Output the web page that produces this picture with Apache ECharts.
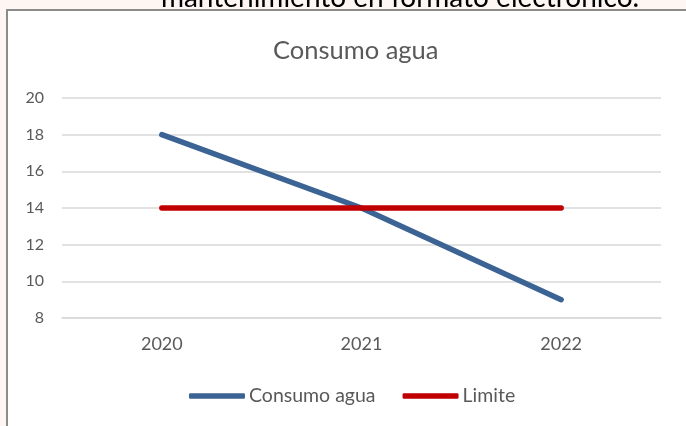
<!DOCTYPE html>
<html>
<head>
<meta charset="utf-8">
<script src="https://cdn.jsdelivr.net/npm/echarts@6/dist/echarts.min.js"></script>
<style>
html,body{margin:0;padding:0;background:#fdf6f3;}
#c{width:686px;height:426px;}
</style>
</head>
<body>
<div id="c"></div>
<script>
var categories = ['2020', '2021', '2022'];
var consumoAgua = [18, 14, 9];
var limite = [14, 14, 14];
var yTicks = {min: 8, max: 20, interval: 2};
var chartTitle = 'Consumo agua';
var headerText = 'mantenimiento en formato electrónico.';

var FONT = 'Lato';
var chart = echarts.init(document.getElementById('c'), null, {renderer: 'canvas'});
chart.setOption({
  backgroundColor: '#fdf6f3',
  animation: false,
  graphic: [
    {type: 'rect', z: -10, shape: {x: 7, y: 10, width: 700, height: 430},
     style: {fill: '#ffffff', stroke: '#8c8c8c', lineWidth: 2}},
    {type: 'text', x: 400, y: -2.5, z: 10,
     style: {text: headerText, fill: '#000000', font: '28px Lato', align: 'center', verticalAlign: 'middle'}}
  ],
  title: {
    text: chartTitle, left: 268, top: 33,
    textStyle: {color: '#595959', fontFamily: FONT, fontSize: 25.5, fontWeight: 'normal'}
  },
  grid: {left: 62, right: 25, top: 98, bottom: 108, containLabel: false},
  xAxis: {
    type: 'category', data: categories, boundaryGap: true,
    axisLine: {show: true, lineStyle: {color: '#d9d9d9', width: 1.5}},
    axisTick: {show: false},
    axisLabel: {color: '#595959', fontFamily: FONT, fontSize: 18, margin: 17}
  },
  yAxis: {
    type: 'value', min: yTicks.min, max: yTicks.max, interval: yTicks.interval,
    axisLine: {show: false}, axisTick: {show: false},
    axisLabel: {color: '#595959', fontFamily: FONT, fontSize: 16, margin: 18},
    splitLine: {lineStyle: {color: '#d9d9d9', width: 1.5}}
  },
  legend: {
    bottom: 20, left: 189, itemWidth: 56, itemHeight: 5.5, itemGap: 27,
    icon: 'roundRect', padding: 0,
    textStyle: {color: '#595959', fontFamily: FONT, fontSize: 19.5, padding: [0, 0, 0, -1]},
    data: ['Consumo agua', 'Limite']
  },
  series: [
    {name: 'Consumo agua', type: 'line', data: consumoAgua, symbol: 'none',
     itemStyle: {color: '#3b6394'}, lineStyle: {color: '#3b6394', width: 5.5, cap: 'round'}},
    {name: 'Limite', type: 'line', data: limite, symbol: 'none',
     itemStyle: {color: '#c00000'}, lineStyle: {color: '#c00000', width: 5.5, cap: 'round'}}
  ]
});
</script>
</body>
</html>
